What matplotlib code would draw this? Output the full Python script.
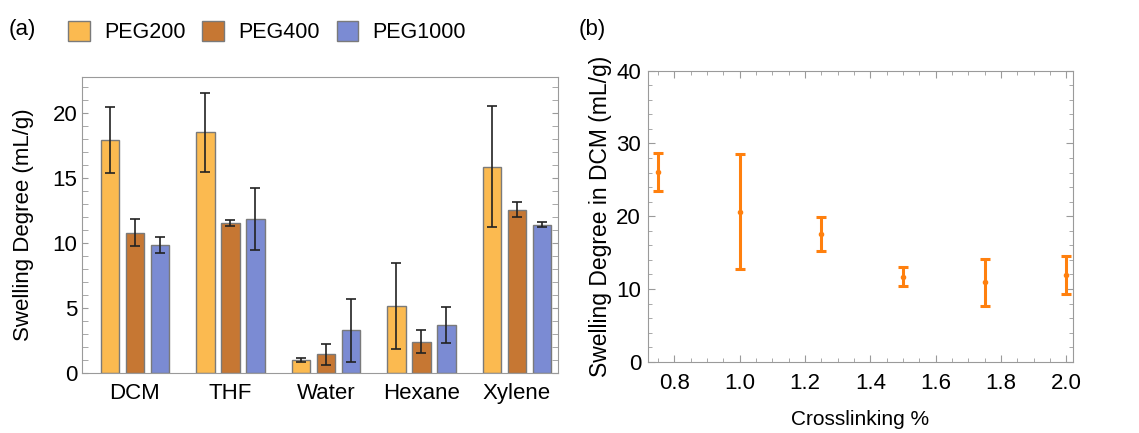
import numpy as np
import matplotlib.pyplot as plt
from matplotlib.patches import Patch
from matplotlib.ticker import MultipleLocator

plt.rcParams['font.family'] = ['Liberation Sans', 'DejaVu Sans']

# panel (a) data
solvents = ["DCM", "THF", "Water", "Hexane", "Xylene"]
peg_labels = ["PEG200", "PEG400", "PEG1000"]
peg200 = [17.95, 18.55, 1.0, 5.15, 15.9]
peg200_err = [2.55, 3.05, 0.15, 3.3, 4.65]
peg400 = [10.8, 11.55, 1.43, 2.42, 12.57]
peg400_err = [1.05, 0.2, 0.8, 0.9, 0.58]
peg1000 = [9.88, 11.85, 3.28, 3.7, 11.43]
peg1000_err = [0.6, 2.4, 2.4, 1.42, 0.2]
bar_colors = ["#FBBA50", "#C67733", "#7B8BD3"]

# panel (b) data
crosslink = [0.75, 1.0, 1.25, 1.5, 1.75, 2.0]
swell_dcm = [26.1, 20.6, 17.5, 11.7, 10.9, 11.9]
swell_err = [2.65, 7.9, 2.35, 1.25, 3.25, 2.6]

W, H = 1139, 433
fig = plt.figure(figsize=(W / 100, H / 100), dpi=100)
spine_col = "#9a9a9a"

# ---- panel (a)
ax1 = fig.add_axes([82 / W, 1 - 373 / H, 476 / W, 296 / H])
x = np.arange(len(solvents))
width = 0.19
step = 0.262
for i, (vals, errs) in enumerate([(peg200, peg200_err), (peg400, peg400_err), (peg1000, peg1000_err)]):
    ax1.bar(x + (i - 1) * step, vals, width, color=bar_colors[i], edgecolor="#7a7a7a", linewidth=1,
            yerr=errs, error_kw=dict(ecolor="#222222", elinewidth=1.2, capsize=3.5, capthick=1.2))
ax1.set_xlim(-0.555, 4.43)
ax1.set_ylim(0, 22.8)
ax1.set_xticks(x)
ax1.set_xticklabels(solvents, fontsize=16)
ax1.tick_params(axis="x", length=0, pad=7)
ax1.yaxis.set_major_locator(MultipleLocator(5))
ax1.yaxis.set_minor_locator(MultipleLocator(1))
ax1.tick_params(axis="y", which="both", direction="in", left=True, right=True, length=4,
                color=spine_col, labelsize=16)
ax1.set_ylabel("Swelling Degree (mL/g)", fontsize=16, labelpad=13)
for s in ax1.spines.values():
    s.set_color(spine_col)

handles = [Patch(facecolor=c, edgecolor="#7a7a7a", label=l) for c, l in zip(bar_colors, peg_labels)]
fig.legend(handles=handles, loc="center", bbox_to_anchor=(267 / W, 1 - 32 / H), ncol=3, frameon=False,
           fontsize=15.5, handlelength=1.0, handleheight=1.1, columnspacing=0.8, handletextpad=0.65)
fig.text(9 / W, 1 - 29 / H, "(a)", fontsize=16, va="center")
fig.text(579 / W, 1 - 29 / H, "(b)", fontsize=16, va="center")

# ---- panel (b)
ax2 = fig.add_axes([648 / W, 1 - 361.7 / H, 425 / W, 291 / H])
ax2.errorbar(crosslink, swell_dcm, yerr=swell_err, fmt="o", color="#FF800E", markersize=3,
             elinewidth=2.2, capsize=3.5, capthick=2.2)
ax2.set_xlim(0.72, 2.02)
ax2.set_ylim(0, 40)
ax2.xaxis.set_major_locator(MultipleLocator(0.2))
ax2.xaxis.set_minor_locator(MultipleLocator(0.05))
ax2.yaxis.set_major_locator(MultipleLocator(10))
ax2.yaxis.set_minor_locator(MultipleLocator(2))
ax2.tick_params(which="both", direction="in", top=True, right=True, color=spine_col, labelsize=16)
ax2.tick_params(which="major", length=5)
ax2.tick_params(which="minor", length=3)
ax2.tick_params(axis="x", pad=8)
ax2.tick_params(axis="y", pad=5)
ax2.set_xlabel("Crosslinking %", fontsize=15, labelpad=12)
ax2.set_ylabel("Swelling Degree in DCM (mL/g)", fontsize=16.5, labelpad=3)
for s in ax2.spines.values():
    s.set_color(spine_col)

fig.savefig("out.png", dpi=100)
